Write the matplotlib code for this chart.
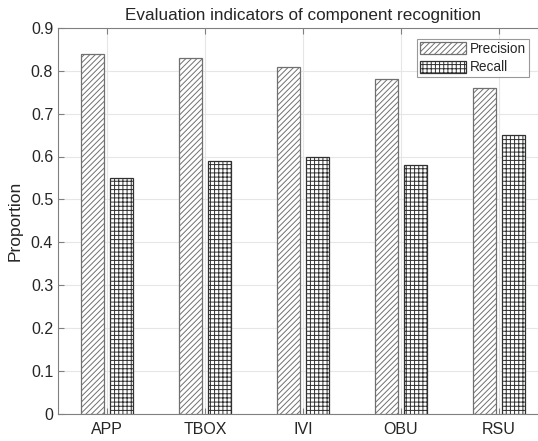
import matplotlib
matplotlib.use("Agg")
import matplotlib.pyplot as plt
import numpy as np

categories = ["APP", "TBOX", "IVI", "OBU", "RSU"]
precision = [0.84, 0.83, 0.81, 0.78, 0.76]
recall = [0.55, 0.59, 0.60, 0.58, 0.65]
yticks = [0, 0.1, 0.2, 0.3, 0.4, 0.5, 0.6, 0.7, 0.8, 0.9]

plt.rcParams['font.family'] = ['Liberation Sans', 'DejaVu Sans']
plt.rcParams['hatch.linewidth'] = 0.7

fig = plt.figure(figsize=(5.38, 4.41), dpi=100)
W, H = 538, 441
left, right, top, bottom = 58, 548, 28, 413.5
ax = fig.add_axes([left / W, (H - bottom) / H, (right - left) / W, (bottom - top) / H])

x = np.arange(1, len(categories) + 1)
bw = 0.23
off = 0.15
ax.bar(x - off, precision, bw, color='white', edgecolor='#707070', hatch='//////',
       linewidth=0.9, label='Precision', zorder=3)
ax.bar(x + off, recall, bw, color='white', edgecolor='#303030', hatch='++++',
       linewidth=0.9, label='Recall', zorder=3)

ax.set_xlim(0.5, 5.5)
ax.set_ylim(0, 0.9)
ax.set_xticks(x)
ax.set_xticklabels(categories)
ax.set_yticks(yticks)
ax.set_yticklabels([f"{v:g}" for v in yticks])
ax.tick_params(direction='in', length=4, color='#808080', labelsize=11.5,
               labelcolor='#262626', top=True, right=True)
ax.tick_params(axis='x', pad=6)
for s in ax.spines.values():
    s.set_color('#808080')
    s.set_linewidth(0.8)
ax.grid(True, color='#e6e6e6', linewidth=0.8, zorder=0)
ax.set_axisbelow(True)

ax.set_ylabel('Proportion', fontsize=12.5, color='#262626', labelpad=6)
ax.set_title('Evaluation indicators of component recognition', fontsize=12.3,
             color='#262626', pad=6)

leg = ax.legend(loc='upper right', bbox_to_anchor=((529 - left) / (right - left), (bottom - 39) / (bottom - top)),
                fontsize=9.8, frameon=True, fancybox=False, edgecolor='#808080',
                handlelength=3.4, handleheight=1.05, handletextpad=0.3,
                borderpad=0.2, labelspacing=0.35, borderaxespad=0)
leg.get_frame().set_linewidth(0.8)
for t in leg.get_texts():
    t.set_color('#262626')

fig.savefig('out.png', dpi=100)
